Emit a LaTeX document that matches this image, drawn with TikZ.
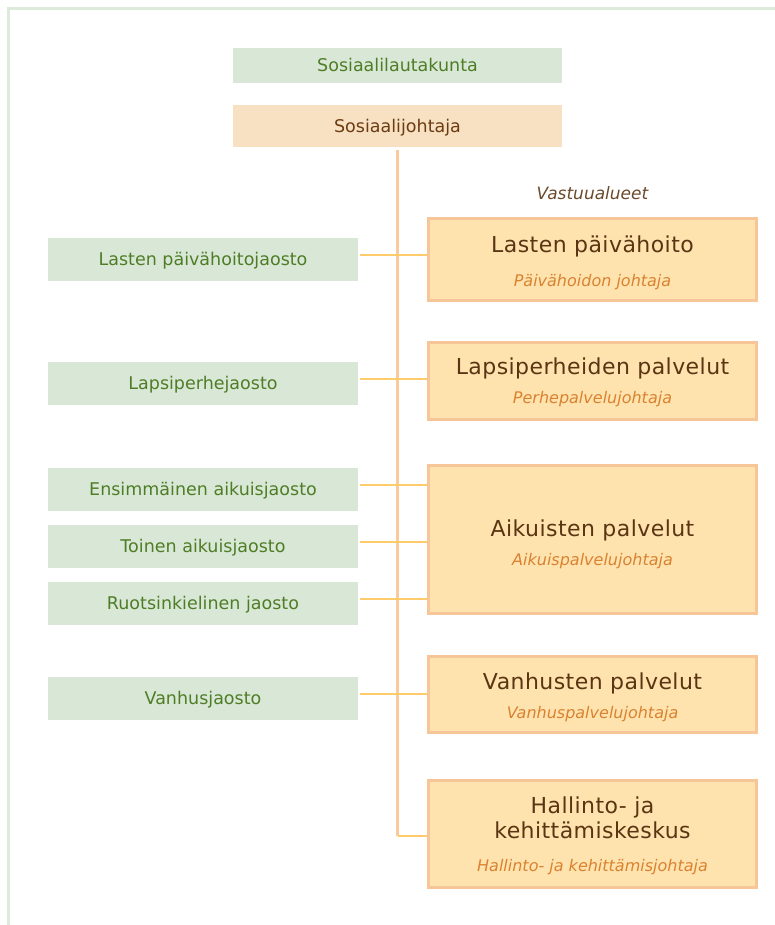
\documentclass[tikz,border=0pt]{standalone}
\usepackage{fontspec}
\setmainfont{DejaVu Sans}
\newfontfamily\harvafont[LetterSpace=2.0]{DejaVu Sans}
\usepackage{tikz}
\usetikzlibrary{calc}

\definecolor{kehys}{HTML}{DCEBDA}
\definecolor{vihrea}{HTML}{D9E8D6}
\definecolor{vihreateksti}{HTML}{4E7D26}
\definecolor{persikka}{HTML}{F8E1C3}
\definecolor{keltainen}{HTML}{FFE3AE}
\definecolor{reunus}{HTML}{F6C698}
\definecolor{runkoviiva}{HTML}{F9CA9C}
\definecolor{yhteysviiva}{HTML}{FFCB6B}
\definecolor{ruskea}{HTML}{5A3513}
\definecolor{oranssi}{HTML}{D98230}

\begin{document}
\begin{tikzpicture}[x=1pt, y=-1pt,
  jaosto/.style={fill=vihrea, text=vihreateksti, minimum width=310pt, minimum height=43pt,
    inner sep=0pt, text height=12.7pt, text depth=0pt, font=\fontsize{17.5}{21}\selectfont},
  ylin/.style={jaosto, minimum width=329pt},
  alue/.style={draw=reunus, line width=3pt, fill=keltainen, minimum width=328pt, inner sep=0pt},
  otsikko/.style={anchor=base, inner sep=0pt, text=ruskea, font=\harvafont\fontsize{22}{25}\selectfont},
  johtaja/.style={anchor=base, inner sep=0pt, text=oranssi, font=\fontsize{16}{19}\selectfont\itshape},
  runko/.style={runkoviiva, line width=3pt},
  yhteys/.style={yhteysviiva, line width=2.8pt}]
  \pgfmathsetmacro{\gx}{203};
  \pgfmathsetmacro{\rx}{592.5};

  \useasboundingbox (0,0) rectangle (775,925);

  % kehys
  \draw[kehys, line width=2.7pt] (8.5,925) -- (8.5,8.7) -- (775,8.7);

  \node[ylin, minimum height=35pt] (sl) at (397.5, 65.5) {Sosiaalilautakunta};
  \node[ylin, minimum height=42pt, fill=persikka, text=ruskea!90!orange] (sj) at (397.5, 126) {Sosiaalijohtaja};

  \node[anchor=base, inner sep=0pt, text=ruskea!90, font=\fontsize{17}{20}\selectfont\itshape] (va) at (\rx, 200) {Vastuualueet};

  % lautakunnan jaostot
  \node[jaosto] (g1) at (\gx, 259) {Lasten päivähoitojaosto};
  \node[jaosto] (g2) at (\gx, 383) {Lapsiperhejaosto};
  \node[jaosto] (g3) at (\gx, 489) {Ensimmäinen aikuisjaosto};
  \node[jaosto] (g4) at (\gx, 546) {Toinen aikuisjaosto};
  \node[jaosto] (g5) at (\gx, 603) {Ruotsinkielinen jaosto};
  \node[jaosto] (g6) at (\gx, 698) {Vanhusjaosto};

  % vastuualueet
  \node[alue, minimum height=82pt] (r1) at (\rx, 259.5) {};
  \node[alue, minimum height=77pt] (r2) at (\rx, 381) {};
  \node[alue, minimum height=148pt] (r3) at (\rx, 539.5) {};
  \node[alue, minimum height=76pt] (r4) at (\rx, 694.5) {};
  \node[alue, minimum height=107pt] (r5) at (\rx, 834) {};

  \node[otsikko] (r1a) at (\rx, 252) {Lasten päivähoito};
  \node[johtaja] (r1b) at (\rx, 286) {Päivähoidon johtaja};
  \node[otsikko] (r2a) at (\rx, 374.3) {Lapsiperheiden palvelut};
  \node[johtaja] (r2b) at (\rx, 403.3) {Perhepalvelujohtaja};
  \node[otsikko] (r3a) at (\rx, 536) {Aikuisten palvelut};
  \node[johtaja] (r3b) at (\rx, 565) {Aikuispalvelujohtaja};
  \node[otsikko] (r4a) at (\rx, 689.3) {Vanhusten palvelut};
  \node[johtaja] (r4b) at (\rx, 718.3) {Vanhuspalvelujohtaja};
  \node[otsikko] (r5a) at (\rx, 813.3) {Hallinto- ja};
  \node[otsikko] (r5b) at (\rx, 838.3) {kehittämiskeskus};
  \node[johtaja] (r5c) at (\rx, 871.7) {Hallinto- ja kehittämisjohtaja};

  \coordinate (k) at (sj.south |- 0, 836);
  \draw[runko] ([yshift=-3pt]sj.south) -- (k);
  \draw[yhteys] (k) -- (k -| r5.west);

  \foreach \g/\r in {g1/r1, g2/r2, g3/r3, g4/r3, g5/r3, g6/r4} {
    \coordinate (a) at ([xshift=2pt, yshift=4pt]\g.east);
    \draw[yhteys] (a) -- (a -| \r.west);
  }
\end{tikzpicture}
\end{document}
